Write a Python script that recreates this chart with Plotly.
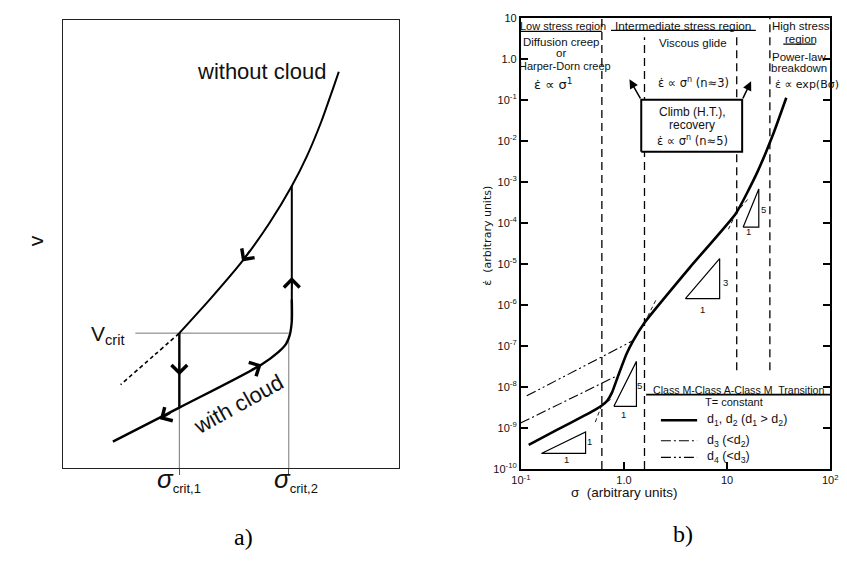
import math
import plotly.graph_objects as go

W, H = 847, 573

# ---------------- Panel a : schematic (arbitrary units 0..1) ----------------
a_without_x = [0.347, 0.440, 0.534, 0.615, 0.682, 0.726, 0.770, 0.805, 0.822]
a_without_y = [0.301, 0.378, 0.461, 0.546, 0.629, 0.694, 0.773, 0.847, 0.884]
a_rise_x = [0.682, 0.682]
a_rise_y = [0.629, 0.330]
a_with_x = [0.682, 0.682, 0.676, 0.665, 0.641, 0.592, 0.347, 0.149]
a_with_y = [0.376, 0.328, 0.297, 0.277, 0.258, 0.231, 0.135, 0.059]
a_dashed_x = [0.347, 0.271, 0.172]
a_dashed_y = [0.301, 0.251, 0.186]
sigma_crit1 = 0.347
sigma_crit2 = 0.673
v_crit = 0.301
v_crit_line_start = 0.216
drop_bottom = 0.135
crit2_line_top = 0.282
# arrows: (head_x, head_y, tail_x, tail_y)
a_arrows = [
    (0.534, 0.461, 0.560, 0.488),   # down along without-cloud
    (0.682, 0.426, 0.682, 0.396),   # up along rise
    (0.347, 0.207, 0.347, 0.237),   # down along drop
    (0.592, 0.231, 0.556, 0.217),   # up-right along with-cloud
    (0.289, 0.109, 0.325, 0.125),   # down-left along with-cloud
]

# ---------------- Panel b : creep map (log-log) ----------------
b_sigma = [0.119, 0.221, 0.411, 0.512, 0.605, 0.686, 0.764, 0.885, 1.06, 1.23,
           1.58, 4.4, 12.2, 19.6, 28.2, 37.5]
b_rate = [3.9e-10, 8.9e-10, 2.0e-9, 2.7e-9, 3.5e-9, 4.6e-9, 7.3e-9, 2.0e-8, 6.5e-8, 1.36e-7,
          3.7e-7, 8.5e-6, 1.72e-4, 1.7e-3, 1.53e-2, 0.112]
d4_sigma = [0.114, 1.23]
d4_rate = [6.1e-9, 1.36e-7]
d3_sigma = [0.099, 0.871]
d3_rate = [1.32e-9, 1.92e-8]
ext_segments = [
    ([0.527, 0.605], [1.40e-9, 3.5e-9]),
    ([0.605, 0.76], [3.5e-9, 5.2e-9]),
    ([1.58, 2.05], [3.7e-7, 1.35e-6]),
    ([12.2, 10.3], [1.72e-4, 7.0e-5]),
    ([12.2, 16.0], [1.72e-4, 3.86e-4]),
]
boundary_sigma = [0.61, 1.58, 12.4, 26.0]
boundary_lo = [1e-10, 1e-10, 2.57e-8, 2.57e-8]
boundary_hi = [10.0, 3.35, 3.35, 10.0]
box_sigma = [1.47, 14.0]
box_rate = [5.4e-3, 0.1]
triangles = [
    ([0.158, 0.424], [2.41e-10, 8.07e-10]),
    ([0.798, 1.32], [3.39e-9, 4.22e-8]),
    ([3.94, 8.47], [1.42e-6, 1.35e-5]),
    ([14.3, 20.3], [7.85e-5, 6.70e-4]),
]
triangle_labels = [
    ("1", 0.274, 1.73e-10), ("1", 0.462, 4.66e-10),
    ("5", 1.41, 1.07e-8), ("1", 0.993, 2.17e-9),
    ("3", 9.66, 3.61e-6), ("1", 5.71, 7.76e-7),
    ("5", 22.6, 2.11e-4), ("1", 16.3, 6.31e-5),
]
header_lines = [
    ([0.1, 0.61], 4.66),
    ([0.748, 19.0], 4.92),
    ([35.1, 72.1], 2.28),
]
x_tick_vals = [0.1, 1, 10, 100]
x_tick_text = ["10<sup>-1</sup>", "1.0", "10", "10<sup>2</sup>"]
y_tick_vals = [10, 1, 1e-1, 1e-2, 1e-3, 1e-4, 1e-5, 1e-6, 1e-7, 1e-8, 1e-9, 1e-10]
y_tick_text = ["10", "1.0", "10<sup>-1</sup>", "10<sup>-2</sup>", "10<sup>-3</sup>", "10<sup>-4</sup>",
               "10<sup>-5</sup>", "10<sup>-6</sup>", "10<sup>-7</sup>", "10<sup>-8</sup>",
               "10<sup>-9</sup>", "10<sup>-10</sup>"]
legend_sigma = [2.28, 5.12]
legend_rate = [1.56e-9, 4.92e-10, 1.93e-10]
legend_text = ["d<sub>1</sub>, d<sub>2</sub> (d<sub>1</sub> &gt; d<sub>2</sub>)",
               "d<sub>3</sub> (&lt;d<sub>2</sub>)",
               "d<sub>4</sub> (&lt;d<sub>3</sub>)"]
legend_dash = ["solid", "10px,3px,2px,3px", "10px,3px,2px,3px,2px,3px"]
legend_width = [2.5, 1.1, 1.1]

FA = "Liberation Sans, Arial, sans-serif"
FB = "Liberation Sans, Arial, sans-serif"
FD = "DejaVu Sans, sans-serif"
FS = "Liberation Serif, Times New Roman, serif"

fig = go.Figure()


def add_line(x, y, panel="a", width=2.0, color="black", dash="solid", shape="linear", smoothing=1.0,
             fill=None, fillcolor=None):
    xa, ya = ("x", "y") if panel == "a" else ("x2", "y2")
    fig.add_trace(go.Scatter(x=x, y=y, xaxis=xa, yaxis=ya, mode="lines",
                             line=dict(color=color, width=width, dash=dash, shape=shape,
                                       smoothing=smoothing),
                             fill=fill, fillcolor=fillcolor, hoverinfo="skip", showlegend=False))


# ---- panel a thin guide lines
add_line([v_crit_line_start, sigma_crit2], [v_crit, v_crit], width=0.9, color="#666")
add_line([sigma_crit1, sigma_crit1], [0, v_crit], width=0.9, color="#666")
add_line([sigma_crit2, sigma_crit2], [0, crit2_line_top], width=0.9, color="#666")
# ---- panel a curves
add_line(a_without_x, a_without_y, width=2.0, shape="spline", smoothing=0.6)
add_line(a_rise_x, a_rise_y, width=2.0)
add_line(a_with_x, a_with_y, width=2.4, shape="spline", smoothing=0.8)
add_line([sigma_crit1, sigma_crit1], [v_crit, drop_bottom], width=2.4)
add_line(a_dashed_x, a_dashed_y, width=1.6, dash="4px,3px", shape="spline")

annotations = []
for hx, hy, tx, ty in a_arrows:
    annotations.append(dict(x=hx, y=hy, ax=tx, ay=ty, xref="x", yref="y", axref="x", ayref="y",
                            text="", showarrow=True, arrowhead=4, arrowsize=1.9, arrowwidth=1.6,
                            arrowcolor="black"))

annotations += [
    dict(x=0.592, y=0.884, xref="x", yref="y", text="without cloud", showarrow=False,
         font=dict(family=FA, size=22, color="#111")),
    dict(x=0.522, y=0.142, xref="x", yref="y", text="with cloud", showarrow=False, textangle=-29,
         font=dict(family=FA, size=22, color="#111")),
    dict(x=120 / W, y=1 - 336 / H, xref="paper", yref="paper", xanchor="right", yanchor="middle",
         text="V<sub>crit</sub>", showarrow=False, font=dict(family=FA, size=21, color="#111")),
    dict(x=sigma_crit1, y=1 - 503 / H, xref="x", yref="paper", showarrow=False,
         text="<i>σ</i><sub><span style=\"font-size:13px\">crit,1</span></sub>",
         font=dict(family=FA, size=26, color="#111")),
    dict(x=sigma_crit2 + 0.02, y=1 - 503 / H, xref="x", yref="paper", showarrow=False,
         text="<i>σ</i><sub><span style=\"font-size:13px\">crit,2</span></sub>",
         font=dict(family=FA, size=26, color="#111")),
    dict(x=13 / W, y=1 - 240 / H, xref="paper", yref="paper", showarrow=False, text="v",
         textangle=-90, font=dict(family=FA, size=21, color="#111")),
    dict(x=227 / W, y=1 - 558 / H, xref="paper", yref="paper", showarrow=False, text="a)",
         font=dict(family=FS, size=24, color="black")),
    dict(x=700 / W, y=1 - 555 / H, xref="paper", yref="paper", showarrow=False, text="b)",
         font=dict(family=FS, size=24, color="black")),
]

# ---- panel b
for s, lo, hi in zip(boundary_sigma, boundary_lo, boundary_hi):
    add_line([s, s], [lo, hi], panel="b", width=1.3, dash="8px,5px")
for xs, y in header_lines:
    add_line(xs, [y, y], panel="b", width=1.2)
for xs, ys in ext_segments:
    add_line(xs, ys, panel="b", width=0.9, dash="4px,3px")
add_line(d4_sigma, d4_rate, panel="b", width=1.1, dash="10px,3px,2px,3px,2px,3px")
add_line(d3_sigma, d3_rate, panel="b", width=1.1, dash="10px,3px,2px,3px")
add_line(b_sigma, b_rate, panel="b", width=2.6, shape="spline", smoothing=0.5)
for xs, ys in triangles:
    add_line([xs[0], xs[1], xs[1], xs[0]], [ys[0], ys[0], ys[1], ys[0]], panel="b", width=1.2)
add_line([box_sigma[0], box_sigma[1], box_sigma[1], box_sigma[0], box_sigma[0]],
         [box_rate[0], box_rate[0], box_rate[1], box_rate[1], box_rate[0]],
         panel="b", width=2.0, fill="toself", fillcolor="white")
# legend
add_line([1.64, 100], [6.52e-9, 6.52e-9], panel="b", width=1.6)
for yv, dsh, wd in zip(legend_rate, legend_dash, legend_width):
    add_line(legend_sigma, [yv, yv], panel="b", width=wd, dash=dsh)


def lg(v):
    return math.log10(v)


def btext(text, s, r, size=11.5, anchor="center", family=FB):
    annotations.append(dict(x=lg(s), y=lg(r), xref="x2", yref="y2", text=text, showarrow=False,
                            xanchor=anchor, font=dict(family=family, size=size, color="#111")))


for t, s, r in triangle_labels:
    btext(t, s, r, size=9.5)

btext("Low stress region", 0.258, 6.46, size=11)
btext("Intermediate stress region", 3.77, 6.46, size=11.8)
btext("High stress", 52.0, 6.46)
btext("region", 52.0, 3.0)
btext("Diffusion creep", 0.245, 2.55)
btext("or", 0.245, 1.39)
btext("Harper-Dorn creep", 0.265, 0.68, size=11)
btext("ε̇ ∝ σ<sup>1</sup>", 0.206, 0.24, size=13, family=FD)
btext("Viscous glide", 4.69, 2.41)
btext("ε̇ ∝ σ<sup>n</sup> (n≈3)", 4.69, 0.267, size=11.5, family=FD)
btext("Power-law", 49.8, 1.12)
btext("breakdown", 49.8, 0.61)
btext("ε̇ ∝ exp(Bσ)", 27.6, 0.24, anchor="left", size=11, family=FD)
btext("Climb (H.T.),", 4.59, 5.14e-2, size=12)
btext("recovery", 4.59, 2.38e-2, size=12)
btext("ε̇ ∝ σ<sup>n</sup> (n≈5)", 4.59, 1.04e-2, size=11.5, family=FD)
btext("Class M-Class A-Class M  Transition", 12.8, 8.57e-9, size=10.6)
btext("T= constant", 11.7, 4.20e-9, size=11)
for yv, tx in zip(legend_rate, legend_text):
    btext(tx, 6.1, yv, size=12.5, anchor="left")

# arrows out of the box
for hs, hr, ts, tr in [(1.13, 0.315, box_sigma[0], box_rate[1]),
                       (17.1, 0.282, box_sigma[1], box_rate[1])]:
    annotations.append(dict(x=lg(hs), y=lg(hr), ax=lg(ts), ay=lg(tr), xref="x2", yref="y2",
                            axref="x2", ayref="y2", text="", showarrow=True, arrowhead=2,
                            arrowsize=1.2, arrowwidth=1.5, arrowcolor="black"))

# axis titles for b
annotations += [
    dict(x=685 / W, y=1 - 507 / H, xref="paper", yref="paper", showarrow=False,
         text="σ  (arbitrary units)", font=dict(family=FB, size=13.5, color="#111")),
    dict(x=487 / W, y=1 - 235 / H, xref="paper", yref="paper", showarrow=False, textangle=-90,
         text="ε̇  (arbitrary units)", font=dict(family=FD, size=11, color="#111")),
]

fig.update_layout(
    width=W, height=H, margin=dict(l=0, r=0, t=0, b=0),
    paper_bgcolor="white", plot_bgcolor="white", showlegend=False,
    annotations=annotations,
    xaxis=dict(domain=[54 / W, 397 / W], range=[0, 1], showline=True, mirror=True,
               linecolor="#222", linewidth=1.3, showgrid=False, zeroline=False,
               tickvals=[sigma_crit1, sigma_crit2], ticks="outside", ticklen=6,
               tickcolor="#555", tickwidth=1, showticklabels=False, fixedrange=True),
    yaxis=dict(domain=[1 - 472 / H, 1 - 14 / H], range=[0, 1], showline=True, mirror=True,
               linecolor="#222", linewidth=1.3, showgrid=False, zeroline=False,
               showticklabels=False, ticks="", fixedrange=True),
    xaxis2=dict(type="log", domain=[522 / W, 838 / W], range=[-1, 2], anchor="y2",
                showline=True, mirror=True, linecolor="black", linewidth=2,
                ticks="inside", ticklen=7, tickwidth=1.5, tickcolor="black",
                tickvals=x_tick_vals, ticktext=x_tick_text, showgrid=False, zeroline=False,
                tickfont=dict(family=FB, size=11, color="#111"), fixedrange=True),
    yaxis2=dict(type="log", domain=[1 - 473 / H, 1 - 12 / H], range=[-10, 1], anchor="x2",
                showline=True, mirror="ticks", linecolor="black", linewidth=2,
                ticks="inside", ticklen=7, tickwidth=1.5, tickcolor="black",
                tickvals=y_tick_vals, ticktext=y_tick_text, showgrid=False, zeroline=False,
                tickfont=dict(family=FB, size=11, color="#111"), fixedrange=True),
)

fig.write_html("out.html")
